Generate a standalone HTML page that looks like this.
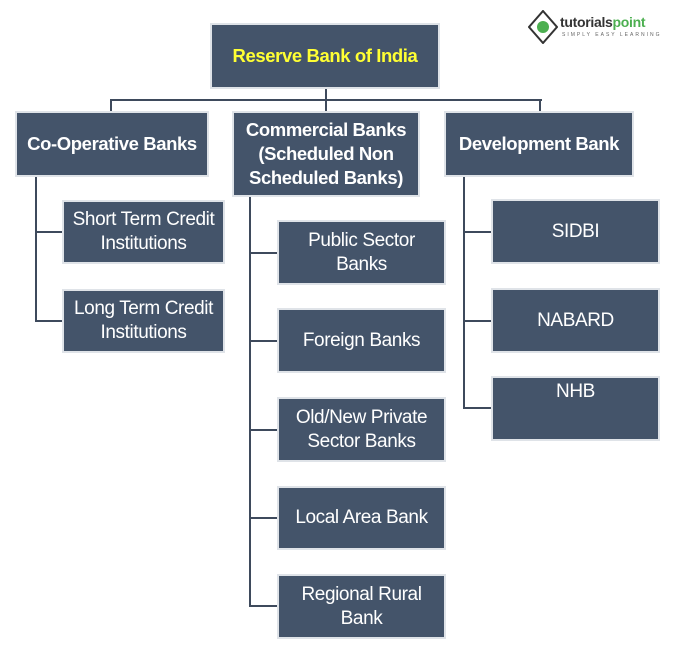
<!DOCTYPE html>
<html><head><meta charset="utf-8"><style>
body{margin:0;width:700px;height:651px;background:#fff;position:relative;overflow:hidden;font-family:"Liberation Sans",sans-serif}
.b{position:absolute;background:#44546a;color:#fff;display:flex;align-items:center;justify-content:center;text-align:center;font-size:19px;line-height:24px;box-shadow:0 0 0 2px #dfe3e8;letter-spacing:-0.4px;white-space:nowrap}
.h{font-weight:bold;font-size:18.5px}
.l{position:absolute;background:#3e4a5c}
</style></head><body>
<div class="l" style="left:325px;top:87px;width:2px;height:14px"></div>
<div class="l" style="left:110px;top:99px;width:432px;height:2px"></div>
<div class="l" style="left:110px;top:99px;width:2px;height:14px"></div>
<div class="l" style="left:325px;top:99px;width:2px;height:14px"></div>
<div class="l" style="left:539px;top:99px;width:2px;height:14px"></div>
<div class="l" style="left:35px;top:175px;width:2px;height:146px"></div>
<div class="l" style="left:35px;top:231px;width:30px;height:2px"></div>
<div class="l" style="left:35px;top:320px;width:30px;height:2px"></div>
<div class="l" style="left:249px;top:195px;width:2px;height:412px"></div>
<div class="l" style="left:249px;top:252px;width:30px;height:2px"></div>
<div class="l" style="left:249px;top:340px;width:30px;height:2px"></div>
<div class="l" style="left:249px;top:429px;width:30px;height:2px"></div>
<div class="l" style="left:249px;top:517px;width:30px;height:2px"></div>
<div class="l" style="left:249px;top:605px;width:30px;height:2px"></div>
<div class="l" style="left:463px;top:175px;width:2px;height:234px"></div>
<div class="l" style="left:463px;top:231px;width:30px;height:2px"></div>
<div class="l" style="left:463px;top:320px;width:30px;height:2px"></div>
<div class="l" style="left:463px;top:407px;width:30px;height:2px"></div>

<div class="b h" style="left:212px;top:25px;width:226px;height:62px;color:#ffff33">Reserve Bank of India</div>
<div class="b h" style="left:17px;top:113px;width:190px;height:62px">Co-Operative Banks</div>
<div class="b h" style="left:234px;top:113px;width:184px;height:82px">Commercial Banks<br>(Scheduled Non<br>Scheduled Banks)</div>
<div class="b h" style="left:446px;top:113px;width:186px;height:62px">Development Bank</div>

<div class="b" style="left:64px;top:202px;width:159px;height:60px">Short Term Credit<br>Institutions</div>
<div class="b" style="left:64px;top:291px;width:159px;height:60px">Long Term Credit<br>Institutions</div>

<div class="b" style="left:279px;top:222px;width:165px;height:61px">Public Sector<br>Banks</div>
<div class="b" style="left:279px;top:310px;width:165px;height:61px">Foreign Banks</div>
<div class="b" style="left:279px;top:399px;width:165px;height:61px">Old/New Private<br>Sector Banks</div>
<div class="b" style="left:279px;top:488px;width:165px;height:60px">Local Area Bank</div>
<div class="b" style="left:279px;top:576px;width:165px;height:61px">Regional Rural<br>Bank</div>

<div class="b" style="left:493px;top:201px;width:165px;height:61px">SIDBI</div>
<div class="b" style="left:493px;top:290px;width:165px;height:61px">NABARD</div>
<div class="b" style="left:493px;top:378px;width:165px;height:61px;align-items:flex-start"><span style="margin-top:2px">NHB</span></div>

<svg style="position:absolute;left:528px;top:10px" width="30" height="34"><polygon points="15,1 29,17 15,33 1,17" fill="#fff" stroke="#333" stroke-width="2"/><circle cx="15" cy="17" r="6" fill="#4caf50"/></svg>
<div style="position:absolute;left:560px;top:14px;font-weight:bold;font-size:14px;color:#333;letter-spacing:-0.3px">tutorials<span style="color:#4caf50">point</span></div>
<div style="position:absolute;left:562px;top:32px;font-size:5px;color:#666;letter-spacing:2px">SIMPLY EASY LEARNING</div>
</body></html>
